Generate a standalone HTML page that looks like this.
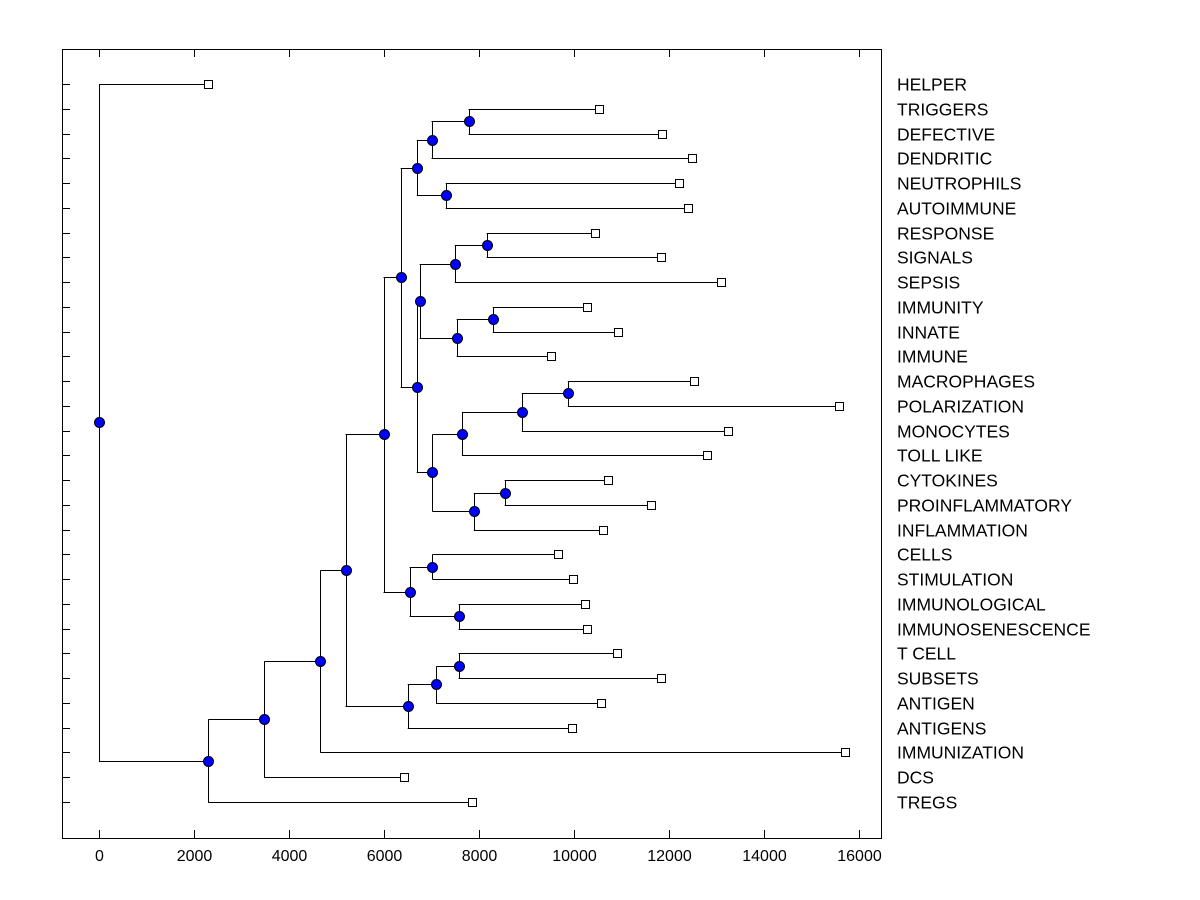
<!DOCTYPE html>
<html><head><meta charset="utf-8"><style>
body{margin:0;background:#fff;}
svg{display:block;font-family:"Liberation Sans",Arial,sans-serif;}
</style></head><body>
<svg id="c" width="1200" height="900" viewBox="0 0 1200 900"></svg>
<script>
const leafLabels=["HELPER","TRIGGERS","DEFECTIVE","DENDRITIC","NEUTROPHILS","AUTOIMMUNE","RESPONSE","SIGNALS","SEPSIS","IMMUNITY","INNATE","IMMUNE","MACROPHAGES","POLARIZATION","MONOCYTES","TOLL LIKE","CYTOKINES","PROINFLAMMATORY","INFLAMMATION","CELLS","STIMULATION","IMMUNOLOGICAL","IMMUNOSENESCENCE","T CELL","SUBSETS","ANTIGEN","ANTIGENS","IMMUNIZATION","DCS","TREGS"];
const leafValues=[2300,10530,11860,12490,12220,12410,10450,11840,13100,10280,10930,9520,12530,15570,13250,12810,10720,11630,10610,9670,9980,10230,10280,10910,11840,10570,9960,15700,6430,7850];
const tree=["root",0,["A",["B",["C",["D",["E",["I",["M",["P",["R",1,2],3],["Q",4,5]],["N",["S",["U",["W",6,7],8],["V",["X",9,10],11]],["T",["Y",["AA",["BB",12,13],14],15],["Z",["CC",16,17],18]]]],["J",["K",19,20],["L",21,22]]],["F",["G",["H",23,24],25],26]],27],28],29]];
const nodeHeights={root:0,A:2300,B:3480,C:4660,D:5190,E:5990,I:6350,M:6690,P:7000,R:7780,Q:7300,N:6690,S:6750,U:7490,W:8160,V:7530,X:8290,T:7020,Y:7640,AA:8900,BB:9870,Z:7890,CC:8540,J:6540,K:7020,L:7570,F:6500,G:7100,H:7570};
const xTicks=[0,2000,4000,6000,8000,10000,12000,14000,16000];

const svg=document.getElementById('c');const NS="http://www.w3.org/2000/svg";
function mk(t,a,p){const e=document.createElementNS(NS,t);for(const k in a)e.setAttribute(k,a[k]);(p||svg).appendChild(e);return e;}
const X0=99,XS=0.0475;const Y0=84,DY=(802-84)/29;
const sx=v=>X0+v*XS, sy=i=>Y0+i*DY;
const L=62,R=881,T=49,B=838;
const frame=mk('rect',{x:L+0.5,y:T+0.5,width:R-L,height:B-T,fill:'none',stroke:'#000','stroke-width':1});


xTicks.forEach(v=>{
  const x=Math.round(sx(v))+0.5;
  const t1=mk('line',{x1:x,x2:x,y1:B,y2:B-8,stroke:'#000'});
  
  
  const t2=mk('line',{x1:x,x2:x,y1:T,y2:T+8,stroke:'#000'});
  
  
  const tx=mk('text',{x:x,y:861,'text-anchor':'middle','font-size':16});
  tx.textContent=v;
  
  
});
leafLabels.forEach((lab,i)=>{
  const y=Math.round(sy(i))+0.5;
  const t=mk('line',{x1:L,x2:L+8,y1:y,y2:y,stroke:'#000'});
  
  
  const tx=mk('text',{x:897,y:y+6,'font-size':17.5});
  tx.textContent=lab;
  
  
});
const gl=mk('g',{stroke:'#000','stroke-width':1,fill:'none'});


const gm=mk('g',{});


const circles=[],squares=[];
function layout(n){
  if(typeof n==='number'){return {x:sx(leafValues[n]),y:sy(n),leaf:n};}
  const h=nodeHeights[n[0]];const x=sx(h);
  const a=layout(n[1]),b=layout(n[2]);
  const y=(a.y+b.y)/2;
  [a,b].forEach(c=>{
    const ln=mk('path',{d:`M${x} ${Math.round(c.y)+0.5}H${c.x}`},gl);
    
    
  });
  const v=mk('path',{d:`M${Math.round(x)+0.5} ${Math.round(a.y)+0.5}V${Math.round(b.y)+0.5}`},gl);
  
  
  circles.push([x,y]);
  [a,b].forEach(c=>{if(c.leaf!==undefined)squares.push([c.x,c.y]);});
  return {x,y};
}
layout(tree);
squares.forEach(([x,y])=>{
  const r=mk('rect',{x:Math.round(x)-3.5,y:Math.round(y)-3.5,width:8,height:8,fill:'#fff',stroke:'#000'},gm);
  
  
});
circles.forEach(([x,y])=>{
  const c=mk('circle',{cx:Math.round(x)+0.5,cy:Math.round(y)+0.5,r:5,fill:'#0000ff',stroke:'#000','stroke-width':1},gm);
  
  
});
</script>
</body></html>
